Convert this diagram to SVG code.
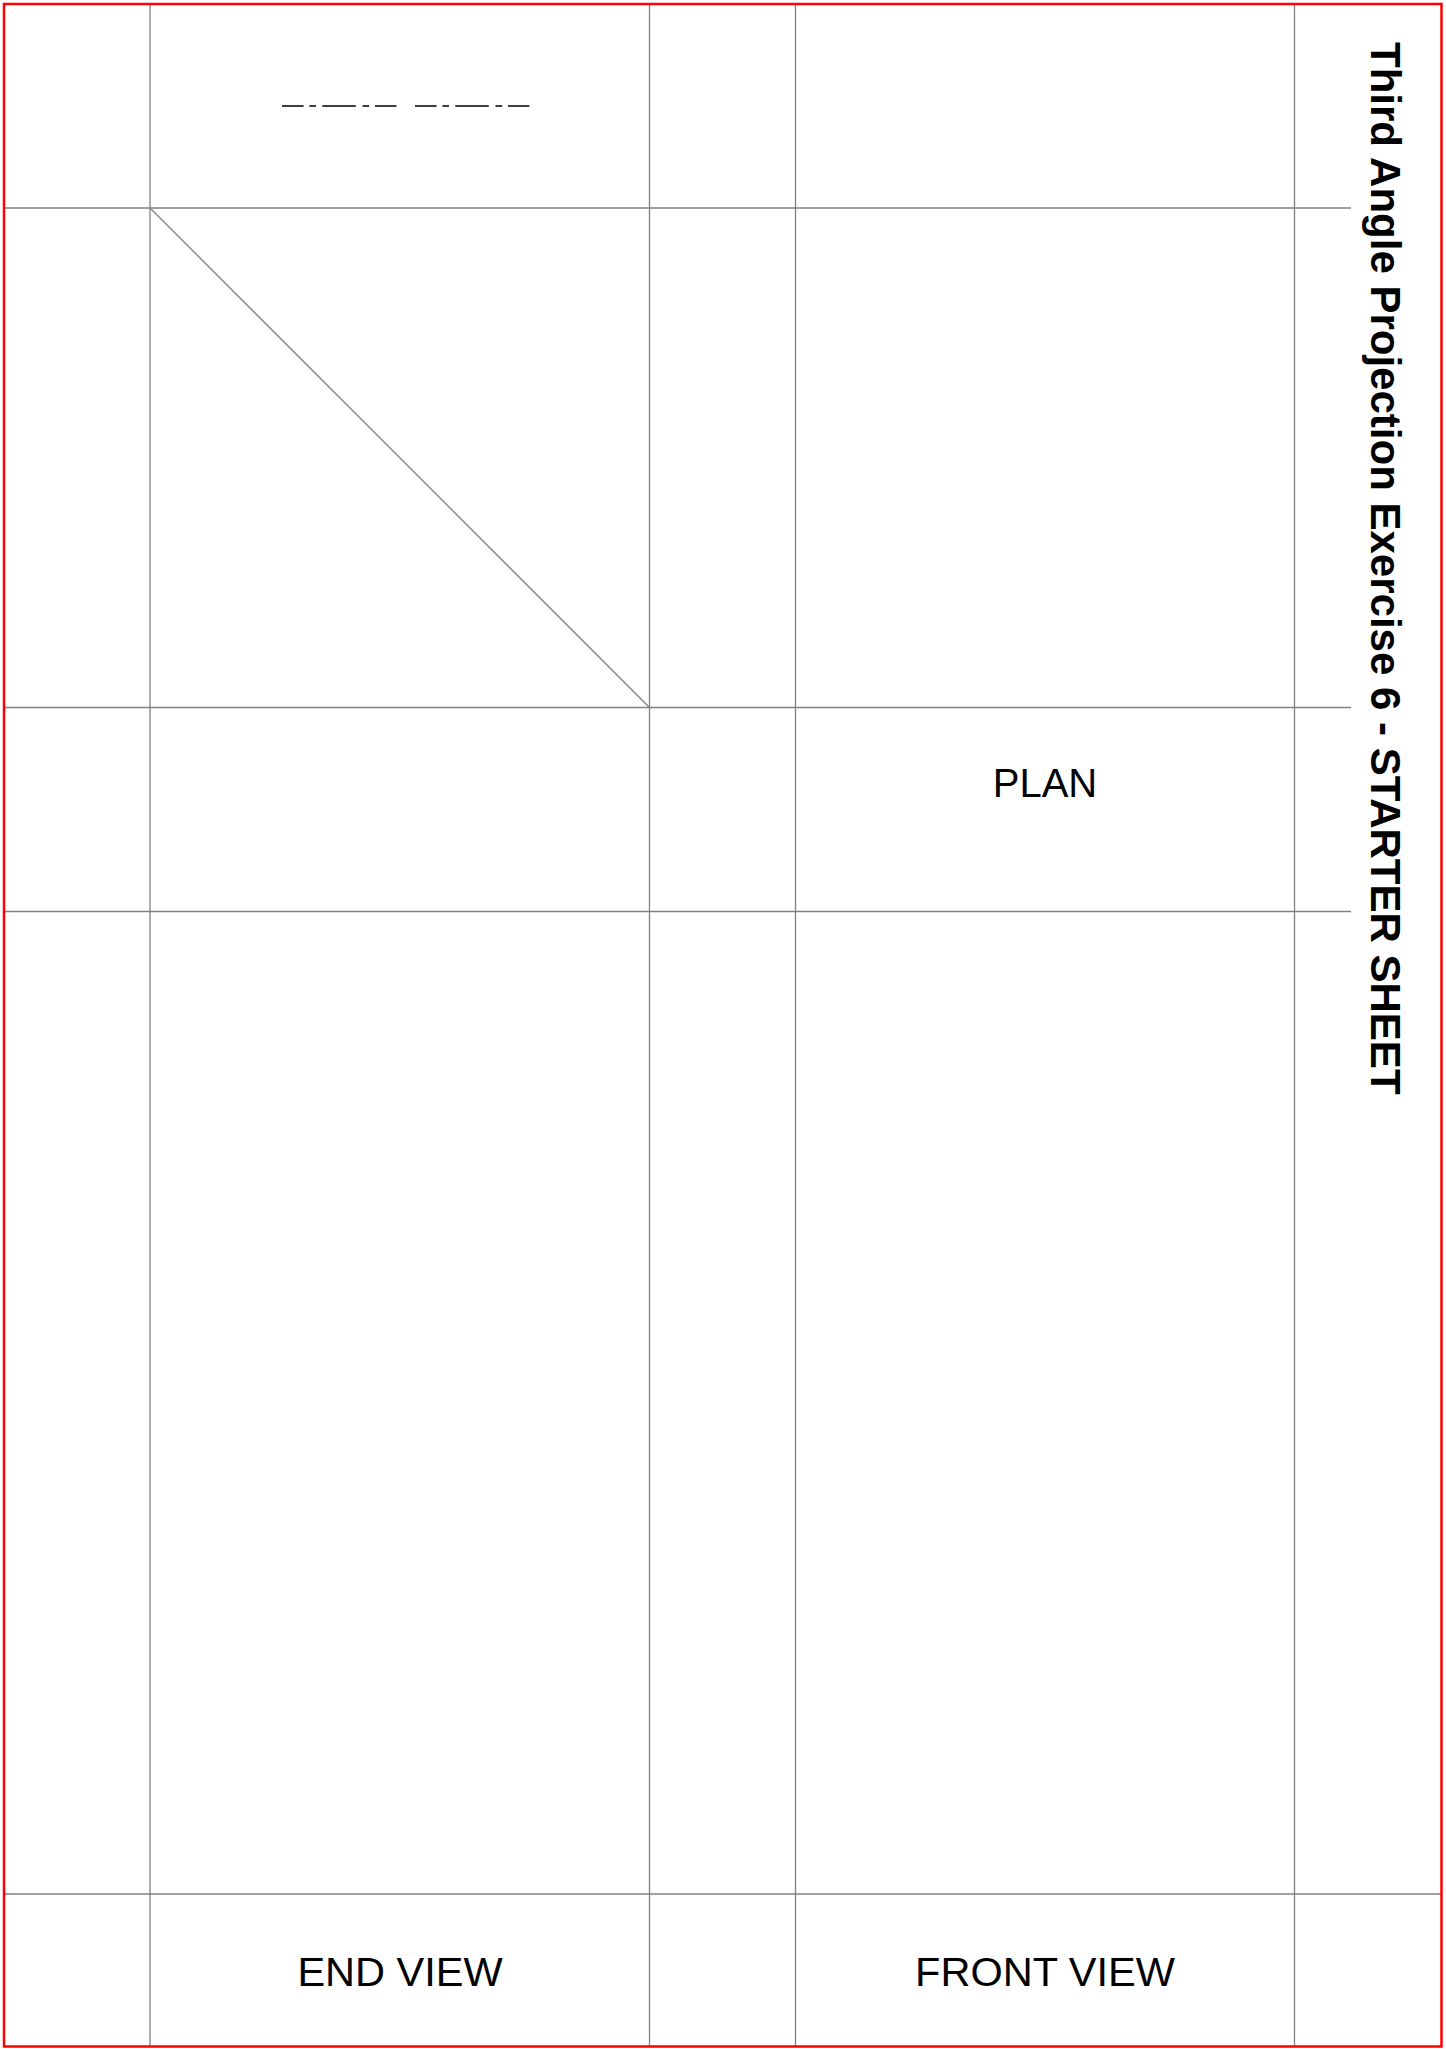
<svg xmlns="http://www.w3.org/2000/svg" width="1446" height="2049" viewBox="0 0 1446 2049">
<style>
.grid{stroke:#808080;stroke-width:1.3;fill:none}
.lbl{font-family:"Liberation Sans",Arial,sans-serif;fill:#000;text-anchor:middle}
.title{font-family:"Liberation Sans",Arial,sans-serif;font-weight:bold;font-size:42px;fill:#000}
.cl{stroke:#000;stroke-width:1.3;fill:none;stroke-dasharray:21.6 5.8 6.6 6.3 33.5 6.7 6.7 5.8 21.4}
</style>
<rect width="1446" height="2049" fill="#fff"/>
<g id="grid">
<line class="grid" x1="150" y1="4" x2="150" y2="2047"/>
<line class="grid" x1="649.5" y1="4" x2="649.5" y2="2047"/>
<line class="grid" x1="795.5" y1="4" x2="795.5" y2="2047"/>
<line class="grid" x1="1294.5" y1="4" x2="1294.5" y2="2047"/>
<line class="grid" x1="4" y1="208" x2="1351" y2="208"/>
<line class="grid" x1="4" y1="707.5" x2="1351" y2="707.5"/>
<line class="grid" x1="4" y1="911.5" x2="1351" y2="911.5"/>
<line class="grid" x1="4" y1="1894" x2="1442" y2="1894"/>
<line class="grid" x1="150" y1="208" x2="649.5" y2="707.5"/>
</g>
<g id="centerline">
<line class="cl" x1="282" y1="106" x2="396.4" y2="106"/>
<line class="cl" x1="415" y1="106" x2="529.4" y2="106"/>
</g>
<g id="labels">
<text class="lbl" x="1045" y="797" font-size="40">PLAN</text>
<text class="lbl" x="400" y="1986" font-size="41.5">END VIEW</text>
<text class="lbl" x="1045" y="1986" font-size="41.5">FRONT VIEW</text>
</g>
<g id="title">
<text class="title" transform="translate(1371,42) rotate(90)" x="0" y="0">Third Angle Projection Exercise 6 - STARTER SHEET</text>
</g>
<rect id="border" x="4" y="4" width="1437.5" height="2042.5" fill="none" stroke="#ff0000" stroke-width="2.5"/>
</svg>
